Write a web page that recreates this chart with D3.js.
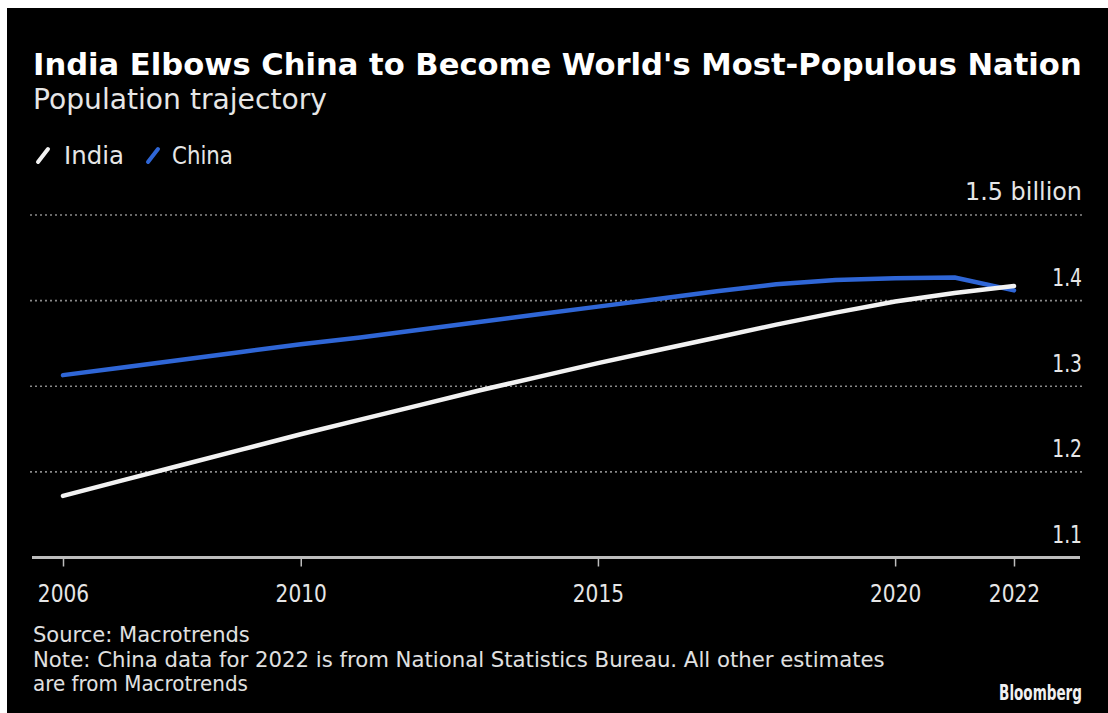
<!DOCTYPE html>
<html><head><meta charset="utf-8">
<script src="https://cdn.jsdelivr.net/npm/d3@7"></script>
<style>
html,body{margin:0;padding:0;background:#fff;}
svg{display:block;}
</style></head>
<body>
<svg id="chart" width="1108" height="713"></svg>
<script>
const years = [2006,2007,2008,2009,2010,2011,2012,2013,2014,2015,2016,2017,2018,2019,2020,2021,2022];
const india = [1.172,1.190,1.208,1.226,1.244,1.261,1.278,1.295,1.311,1.327,1.342,1.357,1.372,1.386,1.399,1.409,1.417];
const china = [1.313,1.322,1.331,1.340,1.349,1.357,1.366,1.375,1.384,1.393,1.402,1.411,1.419,1.424,1.426,1.427,1.412];
const yTicks = [1.1,1.2,1.3,1.4,1.5];
const yTickLabels = ["1.1","1.2","1.3","1.4","1.5 billion"];
const xTicks = [2006,2010,2015,2020,2022];
const seriesNames = ["India","China"];
const seriesColors = ["#f2f2f2","#2f66d6"];

const svg = d3.select("#chart");
const W = 1108, H = 713;
svg.append("rect").attr("width",W).attr("height",H).attr("fill","#fff");
svg.append("rect").attr("x",7).attr("y",8).attr("width",W-7).attr("height",H-8).attr("fill","#000");

const font = "'DejaVu Sans',Verdana,sans-serif";
const CX = 0.78; // horizontal condensation to mimic narrow font

function fit(sel, target){
  const w = sel.node().getComputedTextLength();
  const fs = parseFloat(sel.attr("font-size"));
  sel.attr("font-size", fs*target/w);
}
function squeeze(sel, sx){
  const ax = +sel.attr("x") || 0;
  sel.attr("transform", `translate(${ax},0) scale(${sx},1) translate(${-ax},0)`);
}
function squeezeTo(sel, target){
  const w = sel.node().getComputedTextLength();
  squeeze(sel, target/w);
}

const x = d3.scaleLinear().domain([2006,2022]).range([63,1014]);
const y = d3.scaleLinear().domain([1.1,1.5]).range([557.5,215]);

// title
const t = svg.append("text").attr("x",33).attr("y",75).attr("fill","#fff")
  .attr("font-family",font).attr("font-weight","bold").attr("font-size",27)
  .text("India Elbows China to Become World's Most-Populous Nation");
fit(t,1049);
const st = svg.append("text").attr("x",33).attr("y",109).attr("fill","#e6e6e6")
  .attr("font-family",font).attr("font-size",23).text("Population trajectory");
fit(st,294);

// legend
const legX = [36,146];
const legW = [60,61];
seriesNames.forEach((n,i)=>{
  const g = svg.append("g").attr("transform",`translate(${legX[i]},155)`);
  g.append("line").attr("x1",2).attr("y1",7).attr("x2",12).attr("y2",-6)
    .attr("stroke",seriesColors[i]).attr("stroke-width",4).attr("stroke-linecap","round");
  const lt = g.append("text").attr("x",28-(i?2:0)).attr("y",9).attr("fill","#e6e6e6")
    .attr("font-family",font).attr("font-size",24).text(n);
  squeezeTo(lt, legW[i]);
});

// grid
const grid = svg.append("g");
yTicks.forEach((v,i)=>{
  if(i>0){
    grid.append("line").attr("x1",30).attr("x2",1082).attr("y1",y(v)).attr("y2",y(v))
      .attr("stroke","#8a8a8a").attr("stroke-width",1.6).attr("stroke-dasharray","2,3");
  }
  const tl = grid.append("text").attr("x",1082).attr("y",y(v)-14.5).attr("text-anchor","end")
    .attr("fill","#e6e6e6").attr("font-family",font).attr("font-size",24).text(yTickLabels[i]);
  if(i===4) squeezeTo(tl,117); else squeeze(tl, CX);
});

// x axis
const xa = svg.append("g").attr("transform",`translate(0,${y(1.1)})`)
  .call(d3.axisBottom(x).tickValues(xTicks).tickFormat(d3.format("d")).tickSize(9).tickPadding(13));
xa.select(".domain").remove();
xa.insert("line",":first-child").attr("x1",32).attr("x2",1080).attr("y1",0).attr("y2",0)
  .attr("stroke","#bdbdbd").attr("stroke-width",3);
xa.selectAll(".tick line").attr("stroke","#bdbdbd").attr("stroke-width",1.5);
xa.selectAll(".tick text").attr("fill","#e6e6e6").attr("font-family",font).attr("font-size",24)
  .attr("y",44.5).attr("dy",0).attr("transform","scale(0.84,1)");

// lines
const line = d3.line().x((d,i)=>x(years[i])).y(d=>y(d));
[china, india].forEach((s,k)=>{
  const idx = k===0?1:0;
  svg.append("path").datum(s).attr("d",line).attr("fill","none")
    .attr("stroke",seriesColors[idx]).attr("stroke-width",4.5)
    .attr("stroke-linecap","round").attr("stroke-linejoin","round");
});

// footer
const FS = 21.5;
const f1 = svg.append("text").attr("x",33).attr("y",642).attr("fill","#e0e0e0")
  .attr("font-family",font).attr("font-size",FS).text("Source: Macrotrends");
squeezeTo(f1,217);
const f2 = svg.append("text").attr("x",33).attr("y",667).attr("fill","#e0e0e0")
  .attr("font-family",font).attr("font-size",FS)
  .text("Note: China data for 2022 is from National Statistics Bureau. All other estimates");
squeezeTo(f2,852);
const f3 = svg.append("text").attr("x",33).attr("y",691).attr("fill","#e0e0e0")
  .attr("font-family",font).attr("font-size",FS).text("are from Macrotrends");
squeezeTo(f3,215);
const bl = svg.append("text").attr("x",1082).attr("y",700).attr("text-anchor","end").attr("fill","#f0f0f0")
  .attr("font-family",font).attr("font-weight","bold").attr("font-size",21).text("Bloomberg");
squeezeTo(bl,83);
</script>
</body></html>
